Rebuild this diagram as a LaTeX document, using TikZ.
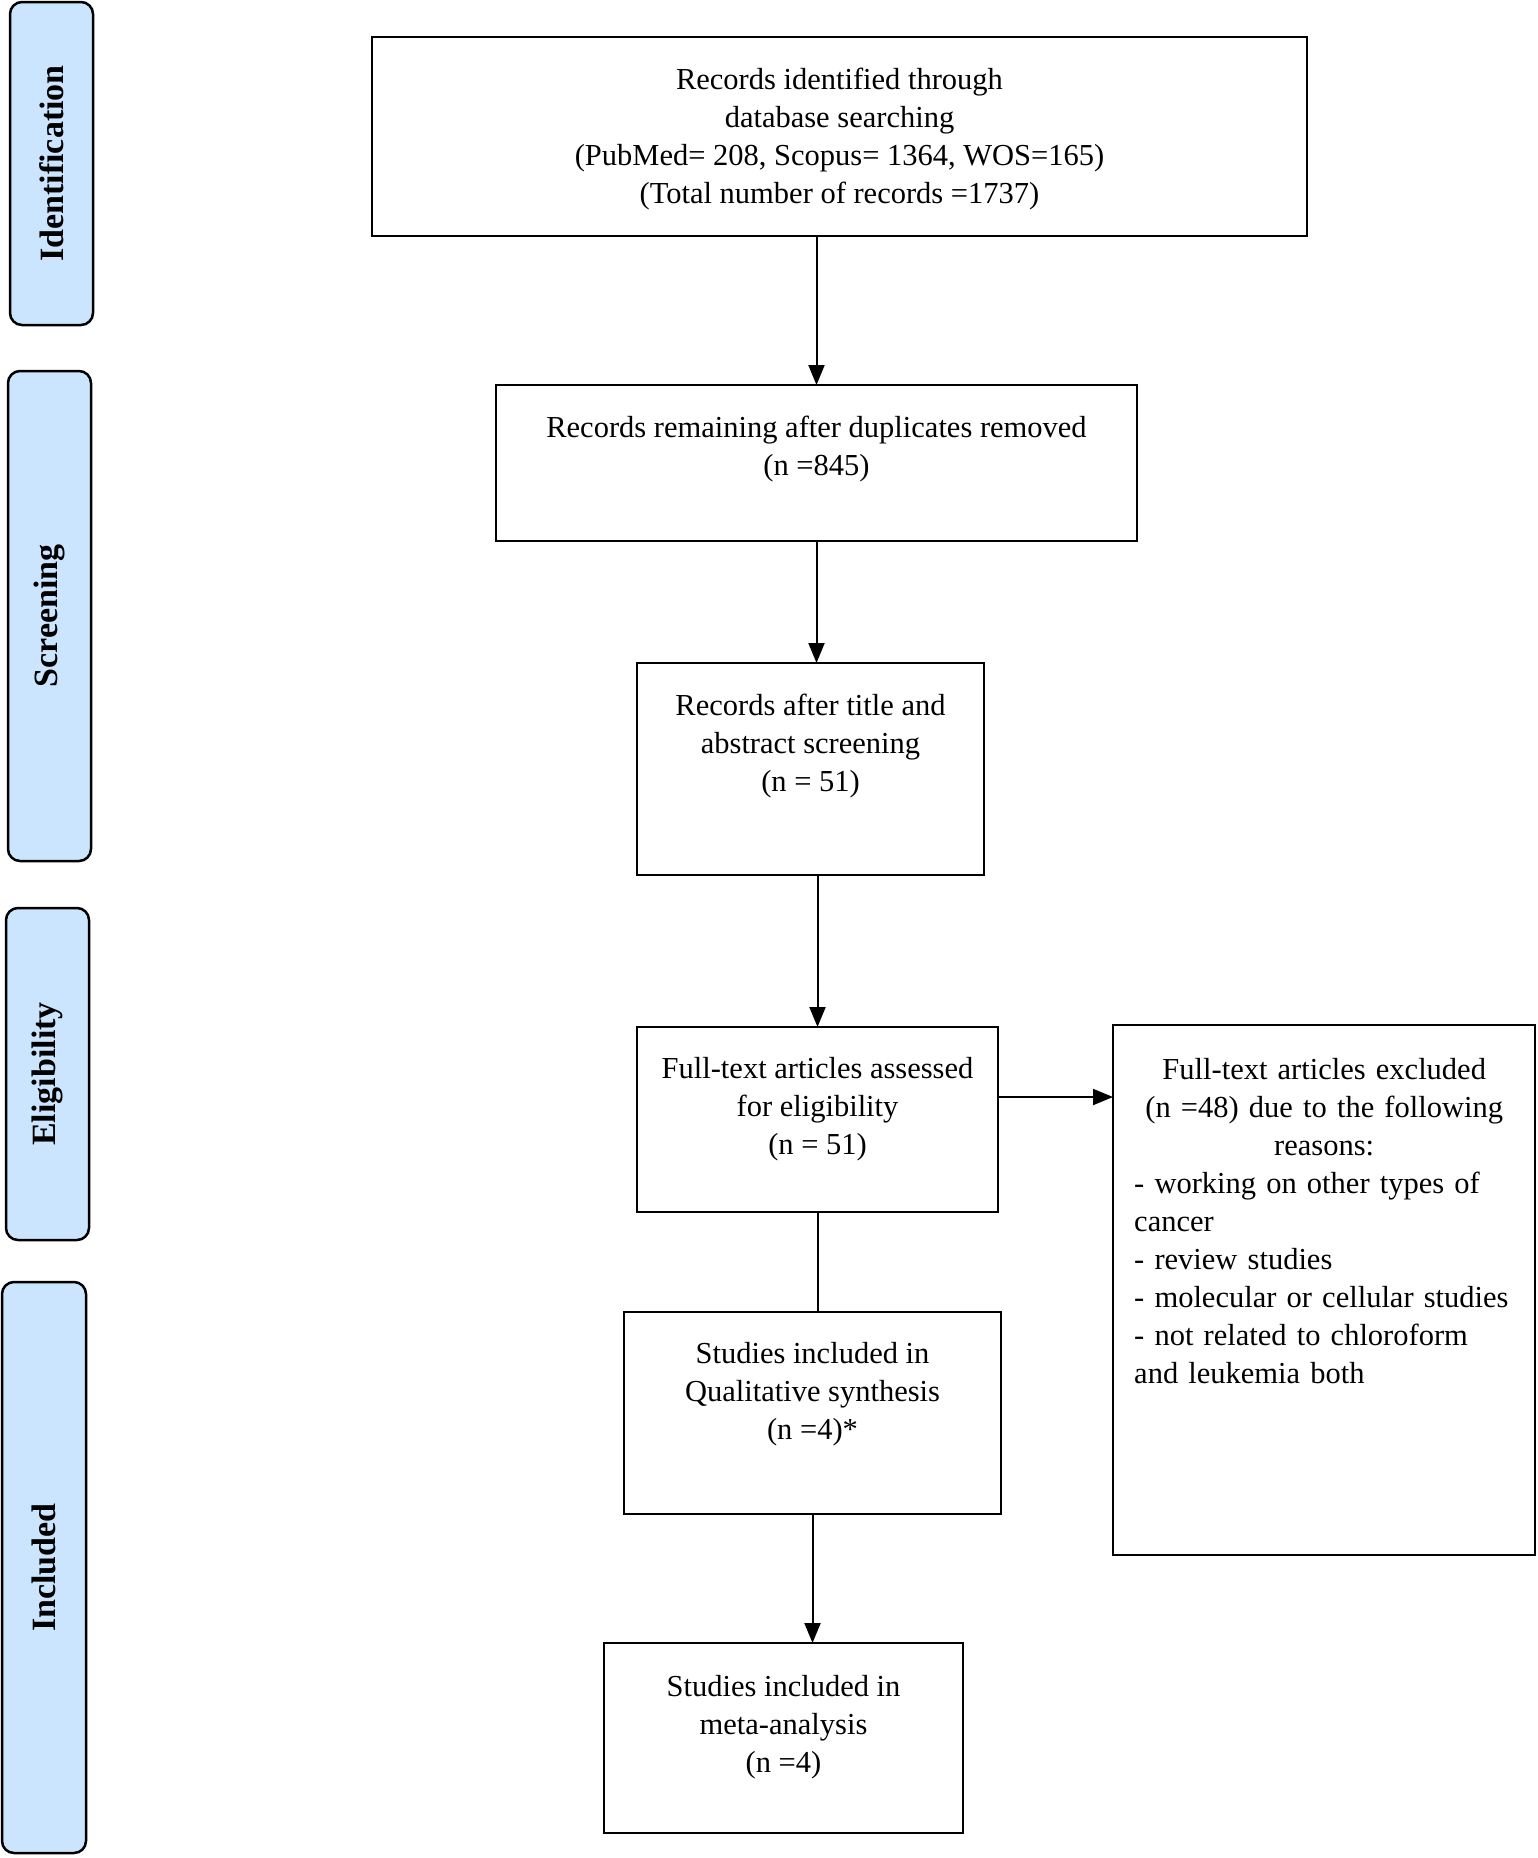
\documentclass[tikz,border=0pt]{standalone}
\usepackage{fontspec}
\setmainfont{Liberation Serif}
\usetikzlibrary{arrows.meta}
\definecolor{phaseblue}{RGB}{204,229,255}
\newcommand{\fl}{\vrule height 22pt depth 0pt width 0pt}
\begin{document}
\begin{tikzpicture}[x=1pt,y=-1pt,
  phase/.style={draw=black, line width=2.5pt, fill=phaseblue, rounded corners=12pt, inner sep=0pt, outer sep=0pt, anchor=north west},
  box/.style={draw=black, line width=2.5pt, inner sep=0pt, outer sep=0pt, anchor=north west},
  txt/.style={inner sep=0pt, anchor=north, align=center, font=\fontsize{30.5}{38}\selectfont},
  plabel/.style={font=\fontsize{34}{40}\selectfont\bfseries, rotate=90, inner sep=0pt},
  conn/.style={line width=2pt},
  arr/.style={conn, -{Triangle[width=16pt,length=20pt]}}]
\useasboundingbox (0,0) rectangle (1537,1858);
% phase bars
\node[phase, minimum width=83pt, minimum height=323pt] (p1) at (10,2) {};
\node[phase, minimum width=83pt, minimum height=490pt] (p2) at (8,371) {};
\node[phase, minimum width=83pt, minimum height=332pt] (p3) at (6,908) {};
\node[phase, minimum width=84pt, minimum height=571pt] (p4) at (2,1282) {};
\node[plabel] (p1t) at (p1.center) {Identification};
\node[plabel] (p2t) at (p2.center) {Screening};
\node[plabel] (p3t) at (p3.center) {Eligibility};
\node[plabel] (p4t) at (p4.center) {Included};
% boxes
\node[box, minimum width=935pt, minimum height=199pt] (b1) at (372,37) {};
\node[box, minimum width=641pt, minimum height=156pt] (b2) at (496,385) {};
\node[box, minimum width=347pt, minimum height=212pt] (b3) at (637,663) {};
\node[box, minimum width=361pt, minimum height=185pt] (b4) at (637,1027) {};
\node[box, minimum width=377pt, minimum height=202pt] (b5) at (624,1312) {};
\node[box, minimum width=422pt, minimum height=530pt] (b6) at (1113,1025) {};
\node[box, minimum width=359pt, minimum height=190pt] (b7) at (604,1643) {};
% texts
\node[txt] (b1t) at ([yshift=-30pt]b1.north) {\fl Records identified through\\ database searching\\ (PubMed= 208, Scopus= 1364, WOS=165)\\ (Total number of records =1737)};
\node[txt] (b2t) at ([yshift=-30pt]b2.north) {\fl Records remaining after duplicates removed\\ (n =845)};
\node[txt] (b3t) at ([yshift=-30pt]b3.north) {\fl Records after title and\\ abstract screening\\ (n = 51)};
\node[txt] (b4t) at ([yshift=-29pt]b4.north) {\fl Full-text articles assessed\\ for eligibility\\ (n = 51)};
\node[txt] (b5t) at ([yshift=-29pt]b5.north) {\fl Studies included in\\ Qualitative synthesis\\ (n =4)*};
\node[txt] (b7t) at ([yshift=-31pt]b7.north) {\fl Studies included in\\ meta-analysis\\ (n =4)};
\node[txt, anchor=north west, text width=380pt, align=left] (b6t) at (1134,1057) {\parindent=0pt\centering\fl Full-text articles excluded\\ (n =48) due to the following\\ reasons:\par\raggedright - working on other types of\\ cancer\\ - review studies\\ - molecular or cellular studies\\ - not related to chloroform\\ and leukemia both\par};
% connectors
\draw[arr] (b1.south -| b2.north) -- (b2.north);
\draw[arr] (b2.south) -- (b2.south |- b3.north);
\draw[arr] (b3.south -| b4.north) -- (b4.north);
\draw[conn] (b4.south) -- (b4.south |- b5.north);
\draw[arr] (b5.south) -- (b5.south |- b7.north);
\coordinate (h) at ([yshift=22.5pt]b4.east);
\draw[arr] (h) -- (h -| b6.west);
\end{tikzpicture}
\end{document}
